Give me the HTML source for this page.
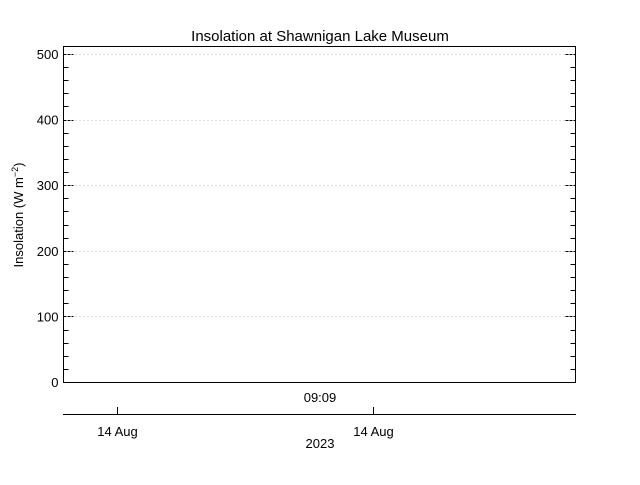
<!DOCTYPE html>
<html><head><meta charset="utf-8"><style>
body{margin:0;background:#fff;}
svg text{font-family:"Liberation Sans",sans-serif;font-size:13px;fill:#000;}
</style></head><body>
<svg id="chart" width="640" height="480" xmlns="http://www.w3.org/2000/svg">
<rect width="640" height="480" fill="#fff"/>
<text x="320" y="41" text-anchor="middle" font-size="15" style="font-size:15px">Insolation at Shawnigan Lake Museum</text>
<text transform="translate(23,215) rotate(-90)" text-anchor="middle">Insolation (W m<tspan dy="-5" style="font-size:9px">−2</tspan><tspan dy="5">)</tspan></text>
<g id="grid"></g><g id="ticks"></g><g id="series"></g>
<rect x="63.5" y="46.5" width="512" height="336" fill="none" stroke="#000" stroke-width="1"/>
<text x="320" y="402" text-anchor="middle">09:09</text>
<line x1="63" y1="414.5" x2="576" y2="414.5" stroke="#000"/>
<g id="dates"></g>
<text x="320" y="448" text-anchor="middle">2023</text>
</svg>
<script>
const yTicks=[0,100,200,300,400,500];
const dateLabels=["14 Aug","14 Aug"];
const datePos=[0.104,0.604];
const seriesX=[0,1];
const seriesY=[0,0];
const L=63.5,R=575.5,T=46.5,B=382.5,ymin=-0.2,ymax=512;
const NS="http://www.w3.org/2000/svg";
function ys(v){return 382-(v/500)*328;}
function xs(f){return L+f*(R-L);}
function mk(p,tag,a){const e=document.createElementNS(NS,tag);for(const k in a)e.setAttribute(k,a[k]);document.getElementById(p).appendChild(e);return e;}
yTicks.forEach(v=>{const y=Math.round(ys(v))+0.5;
 if(v>0){const g=mk('grid','line',{x1:L,x2:R,y1:y,y2:y,stroke:'#bbb','stroke-dasharray':'1 3'});
 
 }
 const t=mk('ticks','line',{x1:L,x2:L+10,y1:y,y2:y,stroke:'#000','stroke-dasharray':'3 1'});
 
 
 const t2=mk('ticks','line',{x1:R-10,x2:R,y1:y,y2:y,stroke:'#000','stroke-dasharray':'3 1'});
 
 
 const lb=mk('ticks','text',{x:L-5,y:ys(v)+5,'text-anchor':'end'});lb.textContent=v;
 
 
 for(let m=1;m<5&&v<500;m++){const my=Math.round(ys(v+m*20))+0.5;
  const a=mk('ticks','line',{x1:L,x2:L+5,y1:my,y2:my,stroke:'#000'});
  
  
  const b=mk('ticks','line',{x1:R-5,x2:R,y1:my,y2:my,stroke:'#000'});
  
  }
});
[520,540].forEach(v=>{});
let d='';seriesX.forEach((x,i)=>{d+=(i?'L':'M')+xs(x)+' '+(Math.round(ys(seriesY[i]))+0.5);});
const s=mk('series','path',{d:d,fill:'none',stroke:'#000','stroke-dasharray':'3 1'});


dateLabels.forEach((l,i)=>{const x=Math.round(xs(datePos[i]))+0.5;
 const t=mk('dates','line',{x1:x,x2:x,y1:407,y2:414,stroke:'#000'});
 
 
 const tx=mk('dates','text',{x:x,y:436,'text-anchor':'middle'});tx.textContent=l;
 
 });
</script>
</body></html>
